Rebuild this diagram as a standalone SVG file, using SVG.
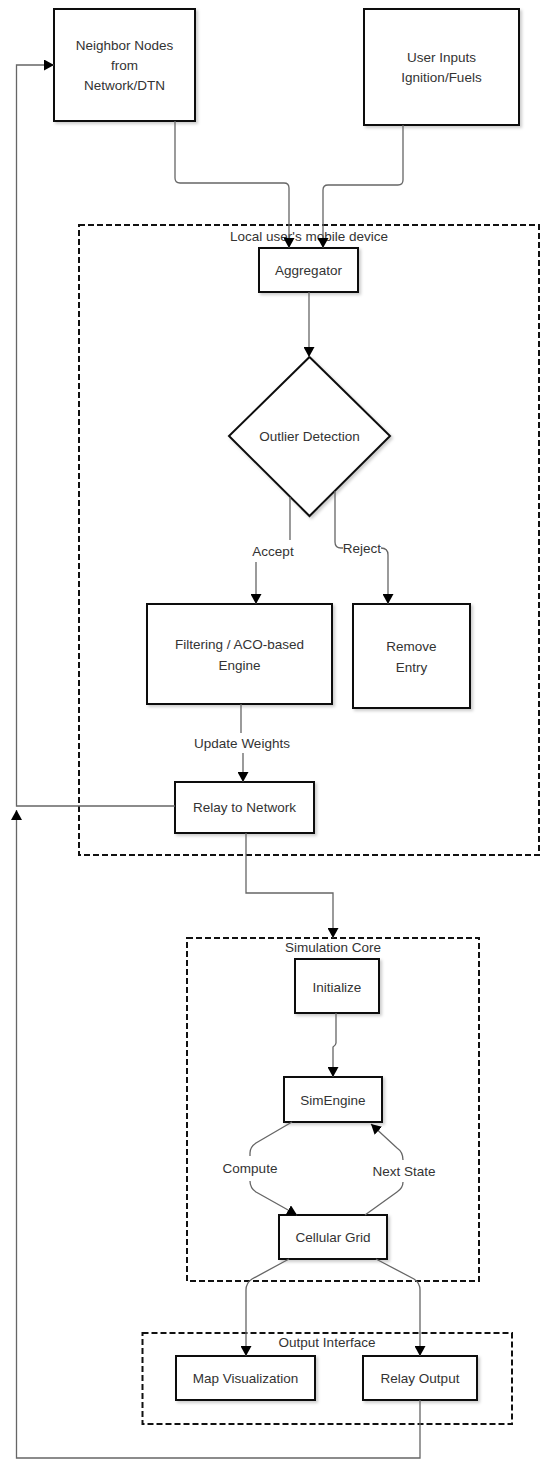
<svg xmlns="http://www.w3.org/2000/svg" width="550" height="1469" viewBox="0 0 550 1469">
<style>
text{font-family:"Liberation Sans",Arial,sans-serif;font-size:13.5px;fill:#333;text-anchor:middle}
.box{fill:#fff;stroke:#111;stroke-width:2;filter:url(#sh)}
.grp{fill:none;stroke:#111;stroke-width:2;stroke-dasharray:6 3}
.c{fill:none;stroke:#666;stroke-width:1.3;marker-end:url(#ah)}
.cn{fill:none;stroke:#666;stroke-width:1.3}
</style>
<defs>
<filter id="sh" x="-10%" y="-10%" width="130%" height="130%">
<feDropShadow dx="2" dy="2" stdDeviation="1.5" flood-color="#000" flood-opacity="0.2"/>
</filter>
<marker id="ah" markerUnits="userSpaceOnUse" markerWidth="10" markerHeight="11" refX="10" refY="5.5" orient="auto" viewBox="0 0 10 11">
<path d="M0,0 L10,5.5 L0,11 z" fill="#000"/>
</marker>
</defs>
<rect width="550" height="1469" fill="#fff"/>
<g id="containers">
<g id="local-device">
<rect class="grp" x="79" y="225" width="460" height="630"/>
<text x="309" y="241">Local user's mobile device</text>
</g>
<g id="simulation-core">
<rect class="grp" x="187" y="938" width="292" height="343"/>
<text x="333" y="952">Simulation Core</text>
</g>
<g id="output-interface">
<rect class="grp" x="142.5" y="1333" width="369.5" height="91"/>
<text x="327" y="1347">Output Interface</text>
</g>
</g>
<g id="neighbor-nodes">
<rect class="box" x="54" y="9" width="141" height="112"/>
<text x="124.5" y="50">Neighbor Nodes</text>
<text x="124.5" y="70">from</text>
<text x="124.5" y="90">Network/DTN</text>
</g>
<g id="user-inputs">
<rect class="box" x="364" y="9" width="155" height="116"/>
<text x="441.5" y="62">User Inputs</text>
<text x="441.5" y="82">Ignition/Fuels</text>
</g>
<g id="aggregator">
<rect class="box" x="259" y="248" width="99" height="44"/>
<text x="308.5" y="275">Aggregator</text>
</g>
<g id="outlier-detection">
<polygon class="box" points="309.5,357 390,436 309.5,516 229,436"/>
<text x="309.5" y="441">Outlier Detection</text>
</g>
<g id="filtering-engine">
<rect class="box" x="147" y="604" width="185" height="100"/>
<text x="239.5" y="649">Filtering / ACO-based</text>
<text x="239.5" y="670">Engine</text>
</g>
<g id="remove-entry">
<rect class="box" x="353" y="604" width="117" height="104"/>
<text x="411.5" y="651">Remove</text>
<text x="411.5" y="672">Entry</text>
</g>
<g id="relay-to-network">
<rect class="box" x="175" y="782" width="139" height="51"/>
<text x="244.5" y="812">Relay to Network</text>
</g>
<g id="initialize">
<rect class="box" x="295" y="959" width="84" height="54"/>
<text x="337" y="992">Initialize</text>
</g>
<g id="simengine">
<rect class="box" x="284" y="1077" width="98" height="45"/>
<text x="333" y="1105">SimEngine</text>
</g>
<g id="cellular-grid">
<rect class="box" x="279" y="1215" width="108" height="44"/>
<text x="333" y="1242">Cellular Grid</text>
</g>
<g id="map-visualization">
<rect class="box" x="176" y="1356" width="139" height="44"/>
<text x="245.5" y="1383">Map Visualization</text>
</g>
<g id="relay-output">
<rect class="box" x="363" y="1356" width="114" height="44"/>
<text x="420" y="1383">Relay Output</text>
</g>
<g id="connectors">
<path class="c" d="M175,121 V178 Q175,183 180,183 H284 Q289,183 289,188 V248"/>
<path class="c" d="M403,125 V180 Q403,185 398,185 H328 Q323,185 323,190 V248"/>
<path class="c" d="M309,292 V357"/>
<path class="c" d="M290,497 V540 M256,562 V604"/>
<path class="c" d="M335,491 V542 Q335,548 341,548 H343 M381,548 Q388,548 388,555 V604"/>
<path class="c" d="M241,704 V733 M243,753 V782"/>
<path class="c" d="M175,806 H16.5 V65 H54"/>
<path class="c" d="M246,833 V893 H333 V938"/>
<path class="c" d="M336,1013 V1043 Q336,1045 333,1047 V1077"/>
<path class="cn" d="M292,1122 L256,1143 Q250,1147 250,1153 V1156"/>
<path class="c" d="M250,1181 Q250,1188 256,1192 L297,1215"/>
<path class="cn" d="M365,1215 L397,1192 Q403,1188 403,1182"/>
<path class="c" d="M403,1160 Q403,1152 397,1148 L371,1124"/>
<path class="c" d="M289,1259 L252,1279 Q246,1283 246,1290 V1356"/>
<path class="c" d="M376,1259 L414,1279 Q420,1283 420,1290 V1356"/>
<path class="c" d="M420,1400 V1458 H16.5 V810"/>
<text x="273" y="556">Accept</text>
<text x="362" y="553">Reject</text>
<text x="242" y="748">Update Weights</text>
<text x="250" y="1173">Compute</text>
<text x="404" y="1176">Next State</text>
</g>
</svg>
